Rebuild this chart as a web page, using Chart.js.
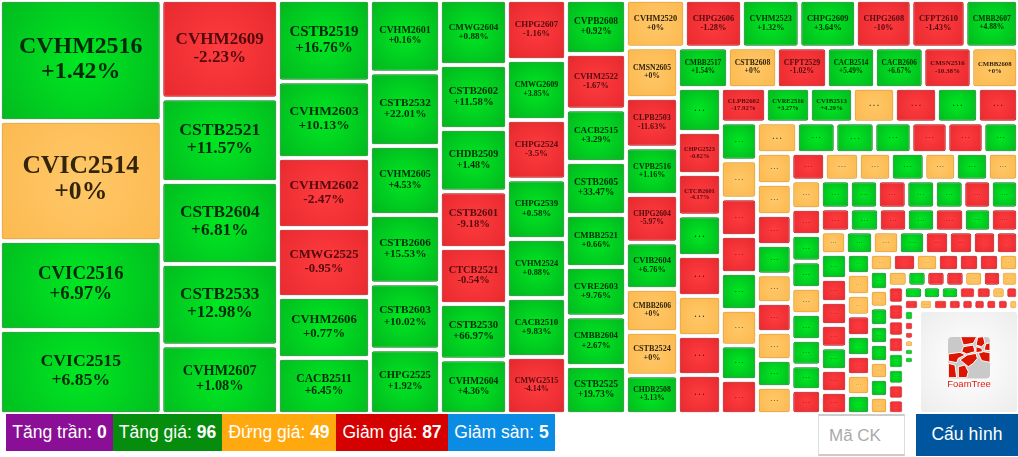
<!DOCTYPE html>
<html>
<head>
<meta charset="utf-8">
<title>Treemap chứng quyền</title>
<script src="https://cdn.jsdelivr.net/npm/chart.js@4/dist/chart.umd.js"></script>
<style>
    html, body { margin: 0; padding: 0; background: #fff; overflow: hidden; }
    #wrap { position: absolute; left: 0; top: 0; width: 1018px; height: 414px; }
    #mapChart { display: block; width: 1018px; height: 414px; }
    .stat, #search, #config { position: absolute; box-sizing: border-box; font-family: "Liberation Sans", Arial, sans-serif; }
    .stat { top: 414px; height: 37px; line-height: 37px; color: #fff; font-size: 17.5px; text-align: center; white-space: nowrap; }
    #search { left: 818px; top: 414px; width: 87px; height: 42px; line-height: 40px; border: 1px solid #ddd; border-top: 2px solid #ccc; border-bottom: 2px solid #ccc;
        color: #aaa; font-size: 17px; padding-left: 10px; }
    #config { left: 916px; top: 414px; width: 102px; height: 42px; line-height: 40px; background: #00569e; color: #fff; font-size: 17.5px; text-align: center; }
</style>
</head>
<body>
<div id="wrap"><canvas id="mapChart" width="1018" height="414"></canvas></div>
<div class="stat" style="left:6px;width:107px;background:#8a0f96">Tăng trần: <b>0</b></div>
<div class="stat" style="left:113px;width:109px;background:#068d0e">Tăng giá: <b>96</b></div>
<div class="stat" style="left:222px;width:114px;background:#ffa90f">Đứng giá: <b>49</b></div>
<div class="stat" style="left:336px;width:112px;background:#d50000">Giảm giá: <b>87</b></div>
<div class="stat" style="left:448px;width:107px;background:#0a8ce4">Giảm sàn: <b>5</b></div>
<div id="search">Mã CK</div>
<div id="config">Cấu hình</div>
<script>
// one line per strip of the treemap, 'col' strips stack down, 'row' strips go across
const stripAxis = ['col','col','col','col','col','col','col','row','col','row','col','row','col','row','col','row','col','row','row','row','col','col','row','col','row','col','row','row','col'];
const stripSize = [4,5,6,6,7,7,8,7,8,7,8,7,8,7,9,7,9,7,7,8,7,8,7,8,7,8,7,9,7];

const tickers = [
    'CVHM2516','CVIC2514','CVIC2516','CVIC2515',
    'CVHM2609','CSTB2521','CSTB2604','CSTB2533','CVHM2607',
    'CSTB2519','CVHM2603','CVHM2602','CMWG2525','CVHM2606','CACB2511',
    'CVHM2601','CSTB2532','CVHM2605','CSTB2606','CSTB2603','CHPG2525',
    'CMWG2604','CSTB2602','CHDB2509','CSTB2601','CTCB2521','CSTB2530','CVHM2604',
    'CHPG2607','CMWG2609','CHPG2524','CHPG2539','CVHM2524','CACB2510','CMWG2515',
    'CVPB2608','CVHM2522','CACB2515','CSTB2605','CMBB2521','CVRE2603','CMBB2604','CSTB2525',
    'CVHM2520','CHPG2606','CVHM2523','CHPG2609','CHPG2608','CFPT2610','CMBB2607',
    'CMSN2605','CLPB2503','CVPB2516','CHPG2604','CVIB2604','CMBB2606','CSTB2524','CHDB2508',
    'CMBB2517','CSTB2608','CFPT2529','CACB2514','CACB2606','CMSN2516','CMBB2608',
    null,'CHPG2523','CTCB2601',null,null,null,null,null,
    'CLPB2602','CVRE2516','CVIB2513'
    // the rest only show "..." in the picture
];

// percent change, where the label is hidden only the sign can be read so 1 / 0 / -1
const changes = [
    1.42,0,6.97,6.85,
    -2.23,11.57,6.81,12.98,1.08,
    16.76,10.13,-2.47,-0.95,0.77,6.45,
    0.16,22.01,4.53,15.53,10.02,1.92,
    0.88,11.58,1.48,-9.18,-0.54,66.97,4.36,
    -1.16,3.85,-3.5,0.58,0.88,9.83,-4.14,
    0.92,-1.67,3.29,33.47,0.66,9.76,2.67,19.73,
    0,-1.28,1.32,3.64,-10,-1.43,4.88,
    0,-11.63,1.16,-5.97,6.76,0,0,3.13,
    1.54,0,-1.02,5.49,6.67,-10.38,0,
    1,-0.82,-4.17,1,-1,0,-1,-1,
    -17.92,3.27,4.29,0,-1,1,-1,
    1,0,-1,-1,1,0,1,-1,
    0,1,1,1,-1,-1,1,
    0,0,-1,1,0,-1,0,1,0,
    -1,0,0,1,0,1,0,
    0,-1,1,1,0,1,1,1,-1,
    1,1,-1,1,1,-1,1,
    -1,1,-1,1,-1,1,-1,
    0,1,0,1,-1,-1,-1,-1,
    1,-1,-1,-1,1,-1,-1,
    1,0,0,-1,1,-1,0,1,
    0,-1,0,-1,-1,-1,0,
    1,0,1,1,1,0,1,0,
    0,1,-1,-1,0,-1,0,
    -1,-1,-1,-1,1,1,-1,-1,
    1,1,1,-1,-1,0,-1,
    -1,0,-1,-1,-1,-1,-1,-1,0,
    1,-1,-1,0,1,1,null
];

// relative size of every cell, estimated from its area
const weights = [
    19542,19380,14374,13566,
    11475,9728,9553,9495,7980,
    7498,7038,6440,6348,5612,5152,
    5075,5145,4830,4795,4620,4515,
    4355,4288,4188,3786,3752,3719,3652,
    3540,3540,3511,3511,3481,3481,3363,
    3240,3330,3150,3180,3120,2970,2970,2880,
    2802,2707,2731,2684,2636,2565,2494,
    2626,2574,2470,2470,2418,2236,2262,2002,
    2025,1984,2025,1944,1964,1944,1883,
    1892,1806,1784,1741,1720,1720,1677,1677,
    1552,1518,1483,1449,1449,1414,1380,
    1368,1368,1350,1332,1332,1278,1242,1224,
    1220,1174,1189,1128,1098,1098,1052,
    1069,1069,1035,1018,983,1000,966,931,931,
    921,935,880,921,866,880,825,
    841,767,782,782,767,767,752,723,708,
    812,784,798,798,798,770,756,
    667,667,644,644,667,621,621,
    562,607,585,585,540,540,517,495,
    650,598,598,585,585,572,572,
    460,483,471,471,460,437,460,437,
    391,391,374,357,340,340,323,
    342,315,333,324,324,306,324,306,
    302,294,294,294,287,279,263,
    272,272,256,264,256,248,240,232,
    237,225,225,212,194,175,156,
    165,154,165,148,132,132,126,126,104,
    110,100,85,85,80,80,500
];

const mapWidth = 1018;
const mapHeight = 414;

const palette = {
    up:   { mid: '#00e822', edge: '#02ba1f', line: '#0a9c25', text: '#032a08' },
    flat: { mid: '#ffc869', edge: '#fcb94f', line: '#ffad1c', text: '#33240a' },
    down: { mid: '#ff3c40', edge: '#e82a2e', line: '#d41a1f', text: '#520a0d' }
};

function tone(v) {
    return v > 0 ? palette.up : v < 0 ? palette.down : palette.flat;
}

// slice the leftover space strip after strip
function layoutCells() {
    const cells = [];
    let x0 = 0, y0 = 0, k = 0;
    stripSize.forEach((n, s) => {
        const part = weights.slice(k, k + n);
        const area = part.reduce((a, b) => a + b, 0);
        const isCol = stripAxis[s] === 'col';
        const thick = area / (isCol ? mapHeight - y0 : mapWidth - x0);
        let pos = isCol ? y0 : x0;
        part.forEach((w, i) => {
            const len = w / thick;
            const cell = isCol
                ? { x: x0, y: pos, w: thick, h: len }
                : { x: pos, y: y0, w: len, h: thick };
            cell.ticker = tickers[k + i];
            cell.change = changes[k + i];
            cells.push(cell);
            pos += len;
        });
        if (isCol) x0 += thick; else y0 += thick;
        k += n;
    });
    return cells;
}

const GAP = 1.75;

class MapController extends Chart.DatasetController {
    update() {
        const meta = this._cachedMeta;
        const ctx = this.chart.ctx;
        const data = this.getDataset().data;
        meta.data.forEach((rect, i) => {
            const d = data[i];
            const left = meta.xScale.getPixelForValue(d.x) + GAP;
            const right = meta.xScale.getPixelForValue(d.x + d.w) - GAP;
            const top = meta.yScale.getPixelForValue(d.y) + GAP;
            const bottom = meta.yScale.getPixelForValue(d.y + d.h) - GAP;
            const c = tone(d.change);
            const cx = (left + right) / 2, cy = (top + bottom) / 2;
            const radius = Math.max(1, Math.max(right - left, bottom - top) * 0.62);
            const grad = ctx.createRadialGradient(cx, cy, 0, cx, cy, radius);
            grad.addColorStop(0, c.mid);
            grad.addColorStop(1, c.edge);
            Object.assign(rect, {
                x: cx, y: top, base: bottom,
                width: right - left, height: bottom - top,
                horizontal: false,
                inflateAmount: 0,
                enableBorderRadius: true,
                borderSkipped: { top: false, right: false, bottom: false, left: false },
                skip: d.change === null,
                options: {
                    backgroundColor: grad,
                    borderColor: c.line,
                    borderWidth: right - left > 14 ? 1 : 0.6,
                    borderRadius: 2,
                    inflateAmount: 0
                }
            });
        });
    }

    draw() {
        const meta = this._cachedMeta;
        const ctx = this.chart.ctx;
        const data = this.getDataset().data;
        ctx.save();
        ctx.shadowColor = 'rgba(90,60,60,0.35)';
        ctx.shadowBlur = 2;
        meta.data.forEach(rect => { if (!rect.skip) rect.draw(ctx); });
        ctx.restore();

        ctx.save();
        ctx.textAlign = 'center';
        ctx.textBaseline = 'middle';
        meta.data.forEach((rect, i) => {
            const d = data[i];
            if (rect.skip) return;
            const c = tone(d.change);
            const midY = rect.y + rect.height / 2;
            ctx.fillStyle = c.text;
            if (!d.ticker) {
                if (rect.width < 10) return;
                ctx.font = 'bold ' + Math.max(4, rect.width * 0.2) + 'px "Liberation Serif"';
                ctx.globalAlpha = rect.width < 20 ? 0.4 : 0.9;
                ctx.fillText('. . .', rect.x, midY - rect.width * 0.03);
                ctx.globalAlpha = 1;
                return;
            }
            const pct = (d.change >= 0 ? '+' : '') + d.change + '%';
            ctx.font = 'bold 100px "Liberation Serif"';
            const em = ctx.measureText(d.ticker).width / 100;
            const size = Math.min(rect.height * 0.22, rect.width * 0.78 / em);
            ctx.font = 'bold ' + size.toFixed(1) + 'px "Liberation Serif"';
            ctx.fillText(d.ticker, rect.x, midY - size * 0.58);
            ctx.fillText(pct, rect.x, midY + size * 0.46);
        });
        ctx.restore();
    }
}
MapController.id = 'stockmap';
MapController.defaults = { dataElementType: 'bar' };
Chart.register(MapController);

// red / grey logo panel in the lower right corner
const logoCells = [
    [[62,20],[110,20],[100,40],[70,45]],
    [[113,22],[130,20],[135,40],[125,50],[108,45]],
    [[137,42],[150,38],[150,62],[132,60]],
    [[70,50],[100,45],[105,65],[80,72],[65,65]],
    [[108,50],[125,55],[128,65],[108,68]],
    [[25,72],[60,67],[76,75],[55,85],[50,98],[25,93]],
    [[82,75],[108,70],[112,85],[100,100],[85,110],[60,90]],
    [[115,70],[130,65],[150,68],[150,97],[125,92]],
    [[25,100],[45,105],[50,143],[25,143]],
    [[55,110],[75,105],[85,125],[80,143],[55,143]]
];

const logoPanel = {
    id: 'logoPanel',
    afterDatasetsDraw(chart) {
        const ctx = chart.ctx;
        ctx.save();
        const g = ctx.createRadialGradient(969, 362, 5, 969, 362, 70);
        g.addColorStop(0, '#ffffff');
        g.addColorStop(1, '#ececec');
        ctx.fillStyle = g;
        ctx.beginPath();
        ctx.roundRect(921, 312, 96, 100, 3);
        ctx.fill();
        ctx.fillStyle = '#c9c9c9';
        ctx.beginPath();
        ctx.roundRect(948, 337, 42, 41.5, 4);
        ctx.fill();
        ctx.fillStyle = '#dc1500';
        ctx.strokeStyle = '#ffffff';
        ctx.lineWidth = 1;
        ctx.lineJoin = 'round';
        logoCells.forEach(p => {
            ctx.beginPath();
            p.forEach((q, i) => {
                const px = 940 + q[0] / 3, py = 330 + q[1] / 3;
                if (i) ctx.lineTo(px, py); else ctx.moveTo(px, py);
            });
            ctx.closePath();
            ctx.fill();
            ctx.stroke();
        });
        ctx.fillStyle = '#e01c14';
        ctx.font = '9.5px "Liberation Sans"';
        ctx.textAlign = 'center';
        ctx.textBaseline = 'middle';
        ctx.fillText('FoamTree', 969, 384);
        ctx.restore();
    }
};

new Chart(document.getElementById('mapChart').getContext('2d'), {
    type: 'stockmap',
    data: { datasets: [{ data: layoutCells(), parsing: false }] },
    options: {
        responsive: false,
        devicePixelRatio: 1,
        animation: false,
        events: [],
        layout: { padding: 0 },
        scales: {
            x: { type: 'linear', display: false, min: 0, max: mapWidth },
            y: { type: 'linear', display: false, min: 0, max: mapHeight, reverse: true }
        },
        plugins: { legend: { display: false }, tooltip: { enabled: false } }
    },
    plugins: [logoPanel]
});
</script>
</body>
</html>
